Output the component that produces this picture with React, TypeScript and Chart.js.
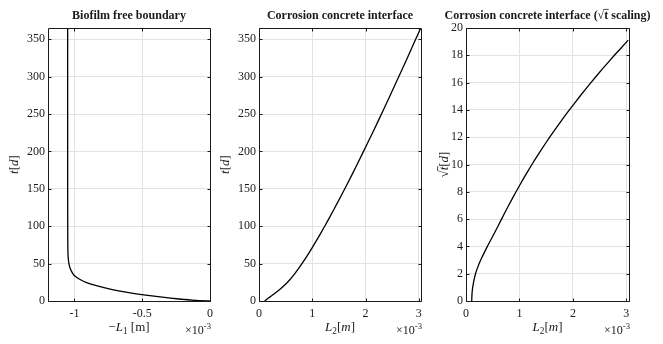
import React, { useEffect, useRef } from "react";
import { Chart, registerables } from "chart.js";

Chart.register(...registerables);

const W = 663;
const H = 344;

// Biofilm free boundary: time [d] and -L1 (in units of 1e-3 m)
const l1Days = [0, 0.8, 2.67, 5.08, 7.75, 11.09, 15.36, 20.97, 25, 29.4, 33, 36.7, 42, 49.4, 60, 80, 150, 365];
const negL1 = [0, -0.106, -0.229, -0.352, -0.475, -0.599, -0.721, -0.845, -0.915, -0.965, -0.995, -1.012, -1.028, -1.04, -1.047, -1.049, -1.05, -1.05];

// Corrosion concrete interface: time [d] and L2 (in units of 1e-3 m)
const l2Days = [0, 0.25, 1, 2.25, 4, 6.25, 9, 16, 25, 36, 49, 64, 81, 100, 121, 144, 169, 196, 225, 256, 289, 324, 361, 365];
const l2 = [0.107, 0.112, 0.125, 0.148, 0.178, 0.222, 0.275, 0.4, 0.535, 0.665, 0.797, 0.936, 1.08, 1.233, 1.395, 1.566, 1.746, 1.934, 2.132, 2.338, 2.553, 2.777, 3.01, 3.034];

const l1TicksX = [-1, -0.5, 0];
const l2TicksX = [0, 1, 2, 3];
const dayTicks = [0, 50, 100, 150, 200, 250, 300, 350];
const sqrtDayTicks = [0, 2, 4, 6, 8, 10, 12, 14, 16, 18, 20];

const SERIF = "'Liberation Serif', 'Times New Roman', 'DejaVu Serif', serif";
const TEXT = "#1a1a1a";
const GRID = "#e2e2e2";

type Seg = { t: string; it?: boolean; sub?: boolean; sup?: boolean; bar?: boolean };

function fontFor(seg: Seg, size: number, bold: boolean) {
  const s = seg.sub || seg.sup ? size * 0.72 : size;
  return `${seg.it ? "italic " : ""}${bold ? "bold " : ""}${s}px ${SERIF}`;
}

function drawRich(
  ctx: CanvasRenderingContext2D,
  segs: Seg[],
  x: number,
  y: number,
  size: number,
  align: "left" | "center" | "right",
  bold = false
) {
  ctx.save();
  ctx.fillStyle = TEXT;
  ctx.strokeStyle = TEXT;
  ctx.textBaseline = "alphabetic";
  ctx.textAlign = "left";
  const widths = segs.map((s) => {
    ctx.font = fontFor(s, size, bold);
    return ctx.measureText(s.t).width;
  });
  const total = widths.reduce((a, b) => a + b, 0);
  let cx = align === "center" ? x - total / 2 : align === "right" ? x - total : x;
  segs.forEach((s, i) => {
    ctx.font = fontFor(s, size, bold);
    const dy = s.sub ? size * 0.25 : s.sup ? -size * 0.42 : 0;
    ctx.fillText(s.t, cx, y + dy);
    if (s.bar) {
      ctx.lineWidth = 0.8;
      ctx.beginPath();
      ctx.moveTo(cx - 0.5, y - size * 0.8);
      ctx.lineTo(cx + widths[i] + 0.5, y - size * 0.8);
      ctx.stroke();
    }
    cx += widths[i];
  });
  ctx.restore();
}

type Spec = {
  left: number;
  right: number;
  xs: number[];
  ys: number[];
  xMin: number;
  xMax: number;
  yMax: number;
  xTicks: number[];
  yTicks: number[];
  title: Seg[];
  xTitle: Seg[];
  yTitle: Seg[];
  yTitleX: number;
};

const TOP = 28;
const BOTTOM = 301;
const Y_W = 40;
const X_H = 20;

function makeChart(canvas: HTMLCanvasElement, spec: Spec) {
  const pts = spec.xs.map((x, i) => ({ x, y: spec.ys[i] }));
  const decor = {
    id: "decor",
    afterDraw(chart: any) {
      const ctx: CanvasRenderingContext2D = chart.ctx;
      const { left, right, top, bottom } = chart.chartArea;
      const xs = chart.scales.x;
      const ys = chart.scales.y;
      ctx.save();
      ctx.strokeStyle = "#1a1a1a";
      ctx.lineWidth = 1;
      const L = Math.round(left) + 0.5;
      const R = Math.round(right) + 0.5;
      const T = Math.round(top) + 0.5;
      const B = Math.round(bottom) + 0.5;
      ctx.beginPath();
      ctx.rect(L, T, R - L, B - T);
      ctx.stroke();
      ctx.beginPath();
      spec.xTicks.forEach((v) => {
        const p = Math.round(xs.getPixelForValue(v)) + 0.5;
        ctx.moveTo(p, B);
        ctx.lineTo(p, B - 3);
        ctx.moveTo(p, T);
        ctx.lineTo(p, T + 3);
      });
      spec.yTicks.forEach((v) => {
        const p = Math.round(ys.getPixelForValue(v)) + 0.5;
        ctx.moveTo(L, p);
        ctx.lineTo(L + 3, p);
        ctx.moveTo(R, p);
        ctx.lineTo(R - 3, p);
      });
      ctx.stroke();
      ctx.restore();

      const cxm = (left + right) / 2;
      drawRich(ctx, spec.title, cxm, 19, 12, "center", true);
      drawRich(ctx, spec.xTitle, cxm, 331, 13, "center");
      drawRich(ctx, [{ t: "×10" }, { t: "-3", sup: true }], right + 1, 334, 12, "right");
      ctx.save();
      ctx.translate(spec.yTitleX, (top + bottom) / 2);
      ctx.rotate(-Math.PI / 2);
      drawRich(ctx, spec.yTitle, 0, 0, 13, "center");
      ctx.restore();
    },
  };

  return new Chart(canvas, {
    type: "scatter",
    data: {
      datasets: [
        {
          data: pts,
          showLine: true,
          borderColor: "#000",
          borderWidth: 1.3,
          pointRadius: 0,
          pointHoverRadius: 0,
          tension: 0.2,
          fill: false,
        },
      ],
    },
    options: {
      responsive: false,
      animation: false,
      events: [],
      layout: {
        padding: {
          left: spec.left - Y_W,
          right: W - spec.right,
          top: TOP,
          bottom: H - BOTTOM - X_H,
        },
      },
      plugins: {
        legend: { display: false },
        tooltip: { enabled: false },
        title: { display: false },
      },
      scales: {
        x: {
          type: "linear",
          position: "bottom",
          min: spec.xMin,
          max: spec.xMax,
          afterBuildTicks: (scale: any) => {
            scale.ticks = spec.xTicks.map((v) => ({ value: v }));
          },
          afterFit: (scale: any) => {
            scale.height = X_H;
          },
          grid: { color: GRID, lineWidth: 1, drawTicks: false },
          border: { display: false },
          ticks: {
            padding: 6,
            color: TEXT,
            maxRotation: 0,
            autoSkip: false,
            font: { family: SERIF, size: 12 },
            callback: (v: any) => String(v),
          },
        },
        y: {
          type: "linear",
          position: "left",
          min: 0,
          max: spec.yMax,
          afterBuildTicks: (scale: any) => {
            scale.ticks = spec.yTicks.map((v) => ({ value: v }));
          },
          afterFit: (scale: any) => {
            scale.width = Y_W;
          },
          grid: { color: GRID, lineWidth: 1, drawTicks: false },
          border: { display: false },
          ticks: {
            padding: 3,
            color: TEXT,
            autoSkip: false,
            font: { family: SERIF, size: 12 },
            callback: (v: any) => String(v),
          },
        },
      },
    },
    plugins: [decor],
  } as any);
}

const dayTitle: Seg[] = [{ t: "t", it: true }, { t: "[" }, { t: "d", it: true }, { t: "]" }];

export default function App() {
  const r1 = useRef<HTMLCanvasElement>(null);
  const r2 = useRef<HTMLCanvasElement>(null);
  const r3 = useRef<HTMLCanvasElement>(null);

  useEffect(() => {
    const charts: Chart[] = [];
    charts.push(
      makeChart(r1.current!, {
        left: 48,
        right: 210,
        xs: negL1,
        ys: l1Days,
        xMin: -1.195,
        xMax: 0,
        yMax: 365,
        xTicks: l1TicksX,
        yTicks: dayTicks,
        title: [{ t: "Biofilm free boundary" }],
        xTitle: [{ t: "−" }, { t: "L", it: true }, { t: "1", sub: true }, { t: " [m]" }],
        yTitle: dayTitle,
        yTitleX: 18,
      })
    );
    charts.push(
      makeChart(r2.current!, {
        left: 259,
        right: 421,
        xs: l2,
        ys: l2Days,
        xMin: 0,
        xMax: 3.04,
        yMax: 365,
        xTicks: l2TicksX,
        yTicks: dayTicks,
        title: [{ t: "Corrosion concrete interface" }],
        xTitle: [{ t: "L", it: true }, { t: "2", sub: true }, { t: "[" }, { t: "m", it: true }, { t: "]" }],
        yTitle: dayTitle,
        yTitleX: 229,
      })
    );
    charts.push(
      makeChart(r3.current!, {
        left: 466,
        right: 629,
        xs: l2,
        ys: l2Days.map((d) => Math.sqrt(d)),
        xMin: 0,
        xMax: 3.05,
        yMax: 20,
        xTicks: l2TicksX,
        yTicks: sqrtDayTicks,
        title: [{ t: "Corrosion concrete interface (√" }, { t: "t", bar: true }, { t: " scaling)" }],
        xTitle: [{ t: "L", it: true }, { t: "2", sub: true }, { t: "[" }, { t: "m", it: true }, { t: "]" }],
        yTitle: [{ t: "√" }, { t: "t", it: true, bar: true }, { t: "[" }, { t: "d", it: true }, { t: "]" }],
        yTitleX: 448,
      })
    );
    return () => charts.forEach((c) => c.destroy());
  }, []);

  const cs: React.CSSProperties = { position: "absolute", left: 0, top: 0, width: W, height: H };
  return (
    <div style={{ position: "fixed", left: 0, top: 0, width: W, height: H, background: "#fff" }}>
      <canvas ref={r1} width={W} height={H} style={cs} />
      <canvas ref={r2} width={W} height={H} style={cs} />
      <canvas ref={r3} width={W} height={H} style={cs} />
    </div>
  );
}
